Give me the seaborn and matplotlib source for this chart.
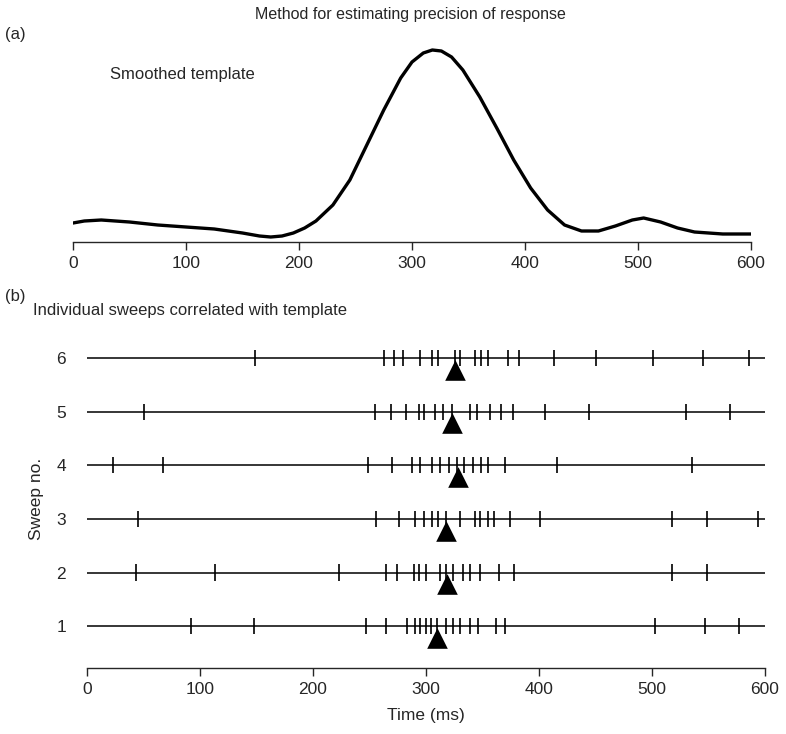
"""
Precision of response: smoothed template + individual sweeps
"""
import numpy as np
import pandas as pd
import matplotlib
matplotlib.use('Agg')
import matplotlib.pyplot as plt
import seaborn as sns

# --- data ---
# smoothed template (time in ms, amplitude in arbitrary units)
template_t = [0, 10, 25, 50, 75, 100, 125, 150, 165, 175, 185, 195, 205, 215,
              230, 245, 260, 275, 290, 300, 310, 318, 326, 335, 345, 360, 375,
              390, 405, 420, 435, 450, 465, 480, 495, 505, 520, 535, 550, 575,
              600]
template_amp = [19, 21, 22, 20, 17, 15, 13, 9, 6, 5, 6, 9, 14, 21,
                37, 62, 97, 132, 164, 180, 189, 192, 191, 185, 172, 145, 114,
                82, 54, 32, 17, 11, 11, 16, 22, 24, 20, 14, 10, 8,
                8]

# spike times per sweep (ms)
sweep1 = [92, 148, 247, 265, 283, 290, 295, 300, 304, 310, 318, 324, 330,
          339, 346, 362, 370, 503, 547, 577]
sweep2 = [43, 113, 223, 265, 274, 289, 294, 300, 312, 318, 324, 333, 339,
          348, 365, 378, 518, 549]
sweep3 = [45, 256, 276, 290, 298, 305, 311, 318, 330, 343, 348, 355, 360,
          374, 401, 518, 549, 594]
sweep4 = [23, 67, 249, 270, 288, 295, 305, 312, 320, 327, 334, 342, 349,
          355, 370, 416, 535]
sweep5 = [50, 255, 269, 282, 294, 298, 308, 315, 323, 339, 345, 357, 366,
          377, 405, 444, 530, 569]
sweep6 = [149, 263, 272, 280, 295, 305, 311, 326, 330, 343, 349, 355, 373,
          382, 413, 450, 501, 545, 586]
sweeps = [sweep1, sweep2, sweep3, sweep4, sweep5, sweep6]
sweep_ids = [1, 2, 3, 4, 5, 6]
sweep_end = [600, 600, 602, 600, 600, 600]

# estimated response time (triangle) per sweep
peak_t = [310, 319, 318, 328, 323, 326]

x_ticks = [0, 100, 200, 300, 400, 500, 600]

# --- style ---
sns.set_style("ticks")
plt.rcParams['font.family'] = ['Liberation Sans', 'DejaVu Sans']

fig = plt.figure(figsize=(7.86, 7.34), dpi=100)
W, H = 786, 734

def px_axes(x0, y0, x1, y1):
    # axes from pixel box (top-left origin)
    return fig.add_axes([x0 / W, 1 - y1 / H, (x1 - x0) / W, (y1 - y0) / H])

# --- (a) template ---
ax1 = px_axes(73, 40, 751, 242)
df_t = pd.DataFrame({'t': template_t, 'amp': template_amp})
sns.lineplot(data=df_t, x='t', y='amp', ax=ax1, color='black', linewidth=2.4)
ax1.set_xlim(0, 600)
ax1.set_ylim(0, 202)
ax1.set_xticks(x_ticks)
ax1.set_yticks([])
ax1.set_xlabel('')
ax1.set_ylabel('')
for s in ['top', 'right', 'left']:
    ax1.spines[s].set_visible(False)
ax1.spines['bottom'].set_linewidth(1.0)
ax1.tick_params(axis='x', length=6, width=1.0, labelsize=12.5, pad=4)
ax1.text(0.055, 0.83, 'Smoothed template', transform=ax1.transAxes,
         fontsize=12, ha='left', va='center')

fig.text(410 / W, 1 - 15 / H, 'Method for estimating precision of response',
         fontsize=11.5, ha='center', va='center')
fig.text(5 / W, 1 - 35 / H, '(a)', fontsize=12, ha='left', va='center')
fig.text(5 / W, 1 - 297 / H, '(b)', fontsize=12, ha='left', va='center')
fig.text(33 / W, 1 - 310 / H, 'Individual sweeps correlated with template',
         fontsize=12, ha='left', va='center')

# --- (b) sweeps ---
ax2 = px_axes(87, 330, 765, 668)
for sid, spikes, end in zip(sweep_ids, sweeps, sweep_end):
    ax2.hlines(sid, 0, end, color='black', linewidth=1.1)
    ax2.vlines(spikes, sid - 0.15, sid + 0.15, color='black', linewidth=1.2)

df_p = pd.DataFrame({'t': peak_t, 'sweep': [s - 0.22 for s in sweep_ids]})
sns.scatterplot(data=df_p, x='t', y='sweep', ax=ax2, marker='^', s=220,
                color='black', edgecolor='black', linewidth=0, legend=False)

ax2.set_xlim(0, 600)
ax2.set_ylim(0.22, 6.52)
ax2.set_xticks(x_ticks)
ax2.set_yticks(sweep_ids)
ax2.set_yticklabels([str(s) for s in sweep_ids])
for s in ['top', 'right', 'left']:
    ax2.spines[s].set_visible(False)
ax2.spines['bottom'].set_linewidth(1.0)
ax2.tick_params(axis='x', length=6, width=1.0, labelsize=12.5, pad=4)
ax2.tick_params(axis='y', length=0, labelsize=12.5, pad=15)
ax2.set_xlabel('Time (ms)', fontsize=12.5, labelpad=8)
ax2.set_ylabel('Sweep no.', fontsize=12.5, labelpad=9)

plt.savefig('out.png', dpi=100)
plt.close()
